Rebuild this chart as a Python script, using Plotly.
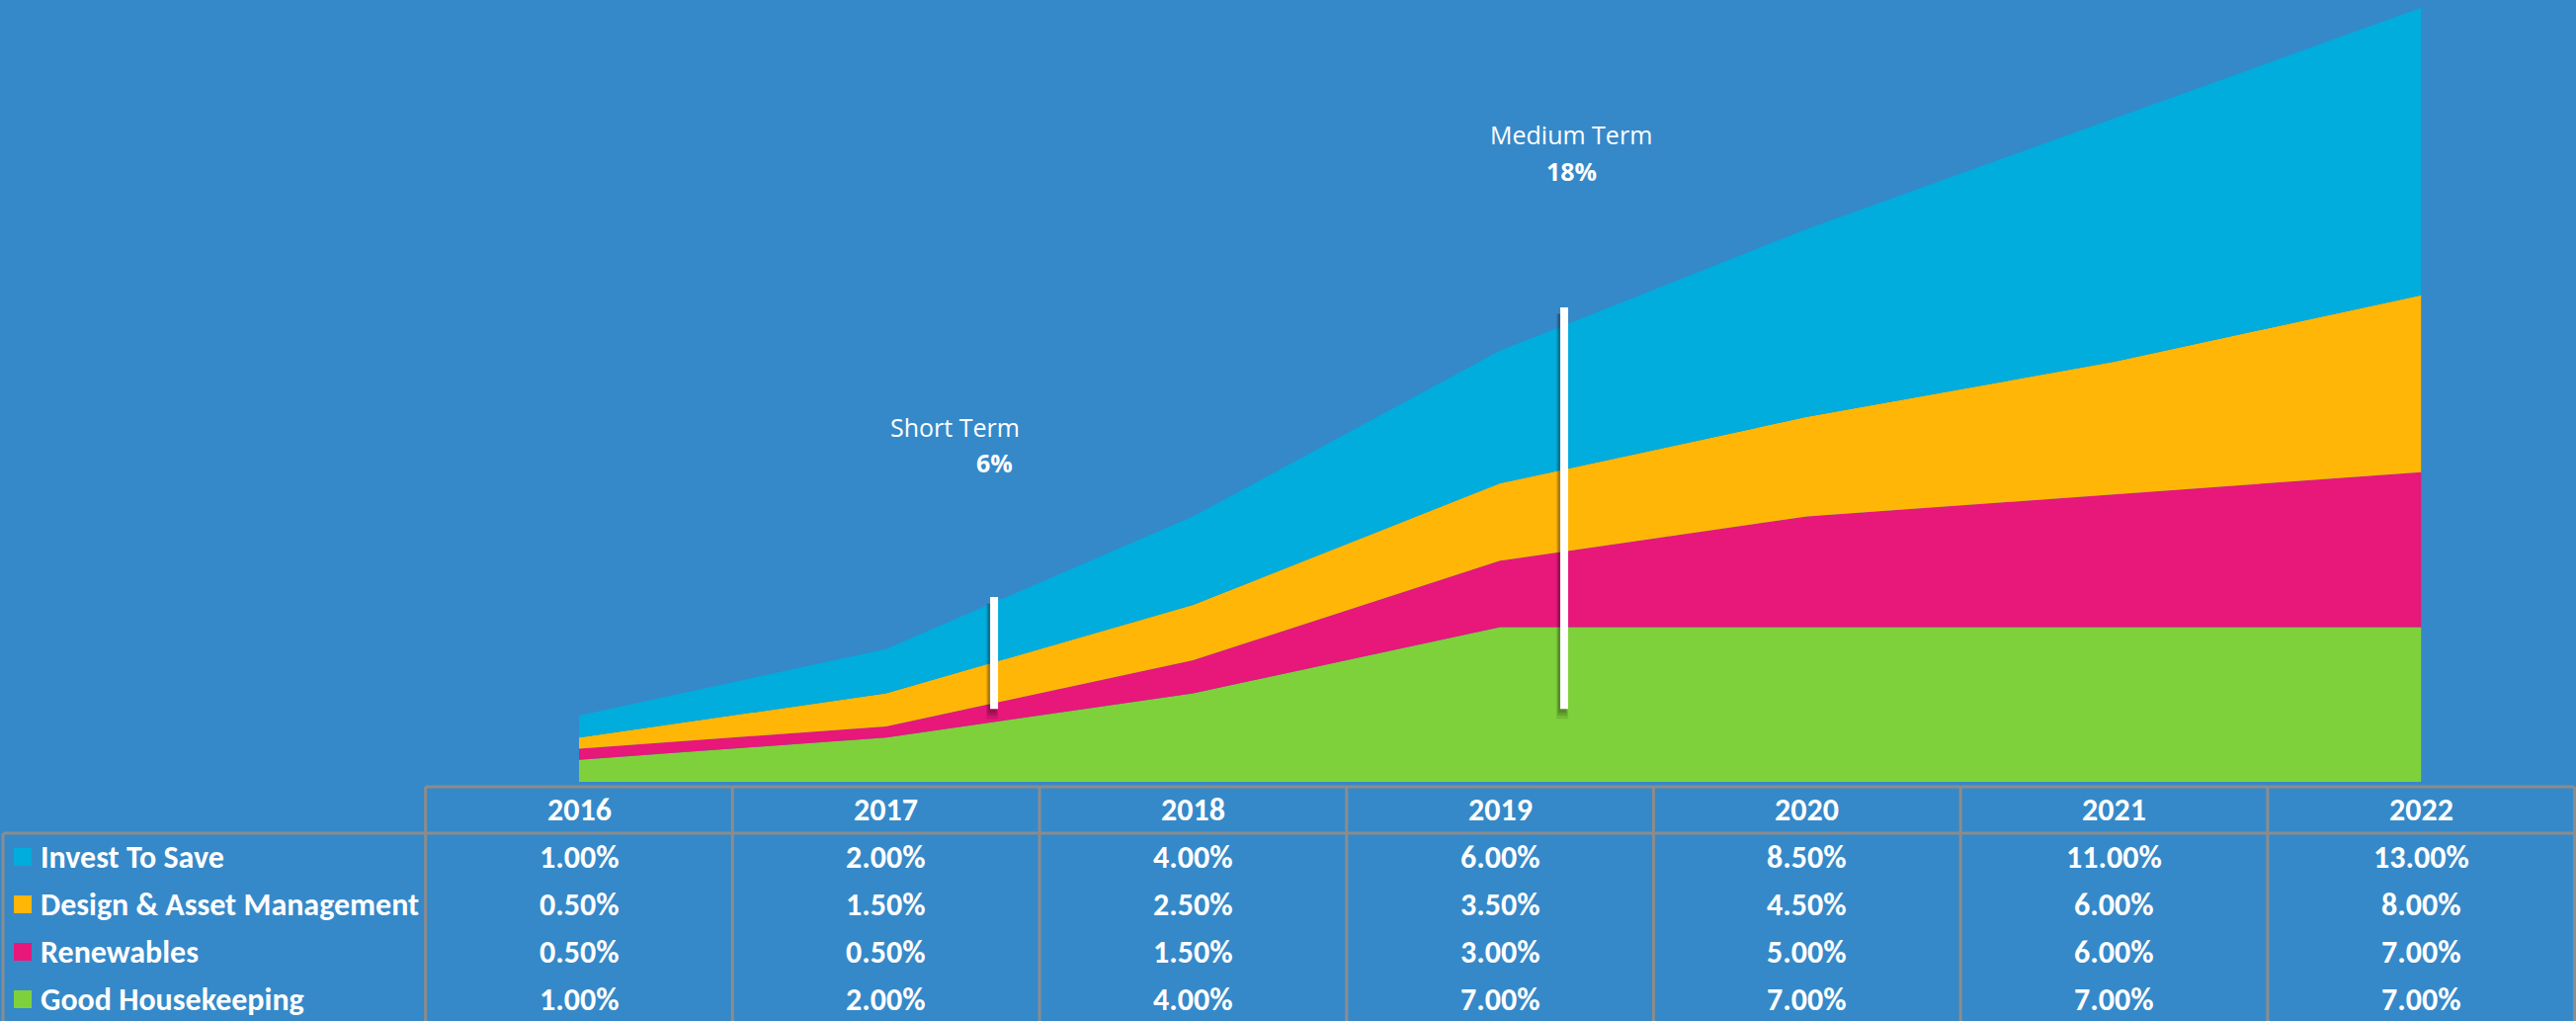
import plotly.graph_objects as go

# ---------------- data ----------------
years = ["2016", "2017", "2018", "2019", "2020", "2021", "2022"]
invest_to_save = [1.0, 2.0, 4.0, 6.0, 8.5, 11.0, 13.0]
design_asset_mgmt = [0.5, 1.5, 2.5, 3.5, 4.5, 6.0, 8.0]
renewables = [0.5, 0.5, 1.5, 3.0, 5.0, 6.0, 7.0]
good_housekeeping = [1.0, 2.0, 4.0, 7.0, 7.0, 7.0, 7.0]

table_rows = ["Invest To Save", "Design & Asset Management", "Renewables", "Good Housekeeping"]
table_values = [invest_to_save, design_asset_mgmt, renewables, good_housekeeping]

# milestone markers (x in category-index units, y in %)
milestone_labels = ["Short Term", "Medium Term"]
milestone_values = ["6%", "18%"]
milestone_x = [1.352, 3.209]
milestone_y_bottom = [3.3, 3.3]
milestone_y_top = [8.36, 21.46]

# ---------------- style ----------------
W, H = 2607, 1033
BG = "#3589C9"
GRID = "#8C8C8C"
COLORS = {
    "Invest To Save": "#00ADDC",
    "Design & Asset Management": "#FFB606",
    "Renewables": "#E8177A",
    "Good Housekeeping": "#7ED13A",
}
TABLE_FONT = "Carlito, 'Liberation Sans Narrow', 'DejaVu Sans Condensed', sans-serif"
ANN_FONT = "'Open Sans', 'Noto Sans', sans-serif"


def py(pix):
    return 1 - pix / H


def px(pix):
    return pix / W


xi = list(range(len(years)))

fig = go.Figure()
stack_order = ["Good Housekeeping", "Renewables", "Design & Asset Management", "Invest To Save"]
for name in stack_order:
    vals = table_values[table_rows.index(name)]
    fig.add_trace(go.Scatter(
        x=xi, y=vals, name=name, mode="lines", stackgroup="one",
        line=dict(width=0, color=COLORS[name]), fillcolor=COLORS[name],
        hoverinfo="skip",
    ))

shapes = []
annotations = []

# milestone bars with soft shadow
for lab, val, mx, y0, y1 in zip(milestone_labels, milestone_values, milestone_x,
                                milestone_y_bottom, milestone_y_top):
    for dx0, dx1, dyb, op in [(-8, 4, 0.45, 0.10), (-7, 3, 0.3, 0.12), (-6, 2, 0.18, 0.14)]:
        shapes.append(dict(type="rect", xref="x", yref="y", xsizemode="pixel", xanchor=mx,
                           x0=dx0, x1=dx1, y0=y0 - dyb, y1=y1 - 0.3,
                           fillcolor=f"rgba(0,0,0,{op})", line=dict(width=0), layer="above"))
    shapes.append(dict(type="rect", xref="x", yref="y", xsizemode="pixel", xanchor=mx,
                       x0=-4, x1=4, y0=y0, y1=y1,
                       fillcolor="white", line=dict(width=0), layer="above"))

annotations.append(dict(text="Short Term", x=milestone_x[0], xshift=-40, y=py(432), xref="x", yref="paper",
                        showarrow=False, font=dict(family=ANN_FONT, size=25, color="white"),
                        xanchor="center", yanchor="middle"))
annotations.append(dict(text="<b>6%</b>", x=milestone_x[0], y=py(468), xref="x", yref="paper",
                        showarrow=False, font=dict(family=ANN_FONT, size=25, color="white"),
                        xanchor="center", yanchor="middle"))
annotations.append(dict(text="Medium Term", x=milestone_x[1], xshift=7, y=py(136), xref="x", yref="paper",
                        showarrow=False, font=dict(family=ANN_FONT, size=25, color="white"),
                        xanchor="center", yanchor="middle"))
annotations.append(dict(text="<b>18%</b>", x=milestone_x[1], xshift=7, y=py(173), xref="x", yref="paper",
                        showarrow=False, font=dict(family=ANN_FONT, size=25, color="white"),
                        xanchor="center", yanchor="middle"))

# ---------------- data table ----------------
HEADER_TOP, HEADER_BOTTOM, TABLE_BOTTOM = 796, 843, 1040
line = dict(color=GRID, width=3)
n = len(years)
# header top border
shapes.append(dict(type="line", xref="x", yref="paper", x0=-0.5, x1=n - 0.5,
                   y0=py(HEADER_TOP), y1=py(HEADER_TOP), line=line, layer="above"))
# header / body separator
shapes.append(dict(type="line", xref="paper", yref="paper", x0=px(3), x1=1,
                   y0=py(HEADER_BOTTOM), y1=py(HEADER_BOTTOM), line=line, layer="above"))
# left border of body
shapes.append(dict(type="line", xref="paper", yref="paper", x0=px(3), x1=px(3),
                   y0=py(HEADER_BOTTOM), y1=py(TABLE_BOTTOM), line=line, layer="above"))
# column borders
for i in range(n + 1):
    shapes.append(dict(type="line", xref="x", yref="paper", x0=i - 0.5, x1=i - 0.5,
                       y0=py(HEADER_TOP), y1=py(TABLE_BOTTOM), line=line, layer="above"))

for i, yr in enumerate(years):
    annotations.append(dict(text=f"<b>{yr}</b>", x=i, y=py(819), xref="x", yref="paper",
                            showarrow=False, font=dict(family=TABLE_FONT, size=32, color="white"),
                            xanchor="center", yanchor="middle"))

row_centers = [867, 915, 963, 1011]
for r, (name, vals) in enumerate(zip(table_rows, table_values)):
    yc = row_centers[r]
    shapes.append(dict(type="rect", xref="paper", yref="paper", x0=px(14), x1=px(32),
                       y0=py(yc + 9), y1=py(yc - 9), fillcolor=COLORS[name], line=dict(width=0)))
    annotations.append(dict(text=f"<b>{name}</b>", x=px(39), y=py(yc), xref="paper", yref="paper",
                            showarrow=False, font=dict(family=TABLE_FONT, size=32, color="white"),
                            xanchor="left", yanchor="middle"))
    for i, v in enumerate(vals):
        annotations.append(dict(text=f"<b>{v:.2f}%</b>", x=i, y=py(yc), xref="x", yref="paper",
                                showarrow=False, font=dict(family=TABLE_FONT, size=32, color="white"),
                                xanchor="center", yanchor="middle"))

PX_PER_CAT = 310.7
X0_PIX = 586
fig.update_layout(
    width=W, height=H,
    margin=dict(l=0, r=0, t=0, b=0),
    paper_bgcolor=BG, plot_bgcolor=BG,
    showlegend=False,
    xaxis=dict(range=[-X0_PIX / PX_PER_CAT, (W - X0_PIX) / PX_PER_CAT], domain=[0, 1],
               visible=False, fixedrange=True),
    yaxis=dict(range=[0, 35], domain=[py(791), py(8)], visible=False, fixedrange=True),
    shapes=shapes,
    annotations=annotations,
)

fig.write_html("out.html")
